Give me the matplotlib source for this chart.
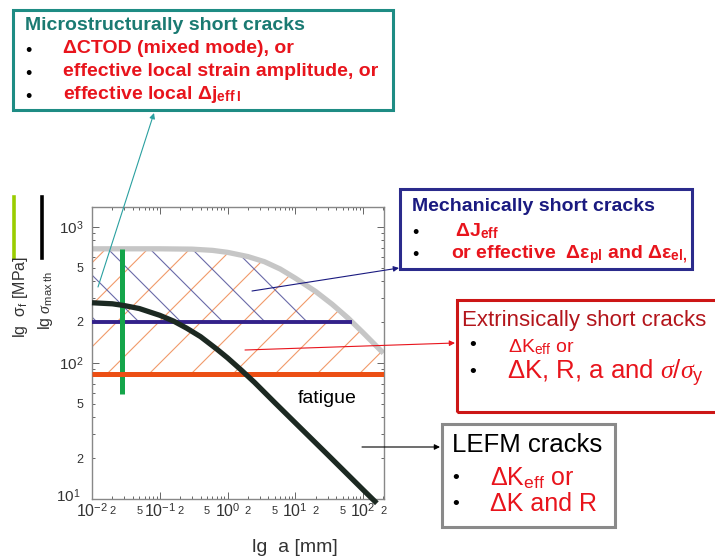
import matplotlib
matplotlib.use('Agg')
import matplotlib.pyplot as plt
import matplotlib.transforms as mtransforms
import numpy as np
from matplotlib.lines import Line2D
from matplotlib.patches import Rectangle, FancyArrowPatch
from matplotlib.path import Path
from matplotlib.ticker import FixedLocator, FixedFormatter

plt.rcParams['font.family'] = ['Liberation Sans', 'DejaVu Sans']
plt.rcParams['mathtext.fontset'] = 'custom'
plt.rcParams['mathtext.rm'] = 'Liberation Sans'
plt.rcParams['mathtext.bf'] = 'Liberation Sans:bold'
plt.rcParams['mathtext.it'] = 'Liberation Serif:italic'
plt.rcParams['mathtext.sf'] = 'Liberation Sans'

# ---------------- data ----------------
# upper boundary (grey curve): crack length a [mm] vs stress [MPa]
upper_a = [0.01, 0.1, 0.3, 0.6, 1.0, 2.0, 3.5, 6.0, 10.0, 20.0, 35.0, 60.0, 100.0, 200.0]
upper_sigma = [690, 690, 686, 672, 650, 605, 555, 490, 420, 335, 270, 214, 167, 118]

# fatigue threshold curve (dark curve)
fatigue_a = [0.01, 0.02, 0.03, 0.05, 0.1, 0.16, 0.25, 0.4, 0.7, 1.0, 1.6, 2.5, 5.0, 10.0, 30.0, 100.0, 160.0]
fatigue_sigma = [277, 272, 264, 251, 224, 203, 180, 156, 126, 109, 88.5, 72, 51, 36.3, 21.2, 11.7, 9.3]

mech_level = 200          # mechanically short crack limit
mech_a_range = [0.01, 69]
extr_level = 83           # extrinsically short crack limit
extr_a_range = [0.01, 204]
micro_a = 0.0277          # microstructural limit (vertical green line)
micro_sigma_range = [59, 690]

x_major = [0.01, 0.1, 1, 10, 100]
x_major_labels = [r'$10^{-2}$', r'$10^{-1}$', r'$10^{0}$', r'$10^{1}$', r'$10^{2}$']
y_major = [10, 100, 1000]
y_major_labels = [r'$10^{1}$', r'$10^{2}$', r'$10^{3}$']

W, H = 715, 560
def fx(x): return x / W
def fy(y): return 1 - y / H

fig = plt.figure(figsize=(7.15, 5.6), dpi=100)
ax = fig.add_axes([fx(92), fy(499), 292 / W, 292 / H])
ax.set_xscale('log'); ax.set_yscale('log')
ax.set_xlim(0.01, 204); ax.set_ylim(10, 1400)

RED = '#e8141c'

# ---------- hatch helper (lines clipped to a filled region) ----------
def hatch(xs, lo, hi, where, color, direction, spacing, phase, lw=0.7):
    coll = ax.fill_between(xs, lo, hi, where=where, interpolate=True,
                           facecolor='none', edgecolor='none')
    path = Path.make_compound_path(*coll.get_paths())
    for c in np.arange(-3, 3, spacing) + phase:
        if direction == '/':
            xl, yl = [-1.5, 2.5], [-1.5 + c, 2.5 + c]
        else:
            xl, yl = [-1.5, 2.5], [c + 1.5, c - 2.5]
        ln = Line2D(xl, yl, transform=ax.transAxes, color=color, lw=lw, zorder=1)
        ax.add_line(ln)
        ln.set_clip_path(path, ax.transData)

ua = np.array(upper_a); us = np.array(upper_sigma)
hatch(ua, extr_level, us, None, '#f19a6a', '/', 0.144, 0.353 % 0.144, 0.8)
hatch(ua, mech_level, us, us >= mech_level, '#6a6aa8', '\\', 0.144, 1.031 % 0.144, 0.8)

ax.plot(upper_a, upper_sigma, color='#c6c6c6', lw=3.8, zorder=2, solid_capstyle='butt')
ax.plot(mech_a_range, [mech_level] * 2, color='#33218a', lw=2.8, zorder=3, solid_capstyle='butt')
ax.plot([micro_a] * 2, micro_sigma_range, color='#14a54a', lw=3.6, zorder=4, solid_capstyle='butt')
ax.plot(extr_a_range, [extr_level] * 2, color='#ec4f14', lw=3.6, zorder=5, solid_capstyle='butt')
ax.plot(fatigue_a, fatigue_sigma, color='#1c2922', lw=3.8, zorder=6, clip_on=False,
        solid_capstyle='butt', solid_joinstyle='round')

# ---------- ticks ----------
def minor_ticks(lo_exp, hi_exp, maxv):
    t, lab = [], []
    for e in range(lo_exp, hi_exp + 1):
        for m in range(2, 10):
            v = m * 10.0 ** e
            if v <= maxv:
                t.append(v); lab.append(str(m) if m in (2, 5) else '')
    return t, lab

xm, xml = minor_ticks(-2, 2, 204)
ym, yml = minor_ticks(1, 3, 1400)
ax.xaxis.set_major_locator(FixedLocator(x_major))
ax.xaxis.set_major_formatter(FixedFormatter(x_major_labels))
ax.xaxis.set_minor_locator(FixedLocator(xm))
ax.xaxis.set_minor_formatter(FixedFormatter(xml))
ax.yaxis.set_major_locator(FixedLocator(y_major))
ax.yaxis.set_major_formatter(FixedFormatter(y_major_labels))
ax.yaxis.set_minor_locator(FixedLocator(ym))
ax.yaxis.set_minor_formatter(FixedFormatter(yml))

ax.tick_params(which='both', direction='in', top=True, right=True, color='#666', width=0.7, labelcolor='#333')
ax.tick_params(which='major', length=5)
ax.tick_params(which='minor', length=2.5)
ax.tick_params(axis='x', which='major', labelsize=11.5, pad=2)
ax.tick_params(axis='x', which='minor', labelsize=8, pad=5)
ax.tick_params(axis='y', which='major', labelsize=11, pad=6)
ax.tick_params(axis='y', which='minor', labelsize=9, pad=6)
for s in ax.spines.values():
    s.set_color('#888'); s.set_linewidth(1)

# nudge the lowest y label up a little, as in the reference
lab0 = ax.yaxis.get_major_ticks()[0].label1
lab0.set_transform(lab0.get_transform() + mtransforms.ScaledTranslation(-2 / 72, 3 / 72, fig.dpi_scale_trans))

# ---------- axis labels ----------
fig.add_artist(Line2D([fx(14)] * 2, [fy(197), fy(258)], color='#9acd00', lw=2.6))
fig.add_artist(Line2D([fx(42)] * 2, [fy(197), fy(258)], color='black', lw=2.6))
fig.text(fx(20), fy(297), r'lg  σ$_{\mathrm{f}}$ [MPa]', rotation=90, ha='center', va='center', fontsize=11.5, color='#333')
fig.text(fx(45), fy(300), r'lg $\sigma_{\mathrm{max\ th}}$', rotation=90, ha='center', va='center', fontsize=11.5, color='#333')
fig.text(fx(295), fy(552), 'lg  a [mm]', ha='center', va='baseline', fontsize=14, color='#333')

def T(x, y, s, **kw):
    return fig.text(fx(x), fy(y), s, va='baseline', ha='left', **kw)

T(298, 403, 'fatigue', fontsize=14, color='black')

def box(x0, y0, x1, y1, ec):
    fig.add_artist(Rectangle((fx(x0), fy(y1)), (x1 - x0) / W, (y1 - y0) / H,
                             transform=fig.transFigure, fill=False, ec=ec, lw=2.2))

def arrow(x0, y0, x1, y1, color):
    fig.add_artist(FancyArrowPatch((fx(x0), fy(y0)), (fx(x1), fy(y1)), transform=fig.transFigure,
                                   arrowstyle='-|>', mutation_scale=8, color=color, lw=0.8,
                                   shrinkA=0, shrinkB=0))

# box 1: microstructurally short cracks
box(13, 10, 393, 110, '#1e8c84')
T(25, 30, 'Microstructurally short cracks', color='#1a7a72', fontsize=14, fontweight='bold')
for yy in (56, 79, 102):
    T(25, yy, '•', color='black', fontsize=13)
T(63, 53, 'ΔCTOD (mixed mode), or', color=RED, fontsize=14, fontweight='bold')
T(63, 76, 'effective local strain amplitude, or', color=RED, fontsize=14, fontweight='bold')
T(63, 99, r'effective local Δj$_{\mathbf{eff\ I}}$', color=RED, fontsize=14, fontweight='bold')
arrow(98, 287, 154, 113, '#2aa0a0')

# box 2: mechanically short cracks
box(400, 189, 692, 269, '#2b2b8c')
T(412, 211, 'Mechanically short cracks', color='#1a1a80', fontsize=14, fontweight='bold')
for yy in (238, 260):
    T(412, yy, '•', color='black', fontsize=13)
T(455, 236, r'ΔJ$_{\mathbf{eff}}$', color=RED, fontsize=14, fontweight='bold')
T(451, 258, r'or effective  Δε$_{\mathbf{pl}}$ and Δε$_{\mathbf{el,}}$', color=RED, fontsize=14, fontweight='bold')
arrow(252, 291, 399, 268, '#1a1a80')

# box 3: extrinsically short cracks
box(457, 300, 730, 412, '#cc1616')
T(462, 326, 'Extrinsically short cracks', color='#b3151b', fontsize=16)
for yy in (350, 377):
    T(469, yy, '•', color='black', fontsize=14)
T(508, 352, r'ΔK$_{\mathrm{eff}}$ or', color=RED, fontsize=14)
T(507, 379, r'ΔK, R, a and $\sigma/\sigma_{\mathrm{y}}$', color=RED, fontsize=18.5)
arrow(245, 350, 455, 343, RED)

# box 4: LEFM cracks
box(442, 424, 615, 527, '#8a8a8a')
T(452, 452, 'LEFM cracks', color='black', fontsize=18.5)
for yy in (483, 509):
    T(452, yy, '•', color='black', fontsize=14)
T(490, 485, r'ΔK$_{\mathrm{eff}}$ or', color=RED, fontsize=18)
T(490, 511, 'ΔK and R', color=RED, fontsize=18)
arrow(362, 447, 440, 447, 'black')

fig.savefig('out.png', dpi=100)
